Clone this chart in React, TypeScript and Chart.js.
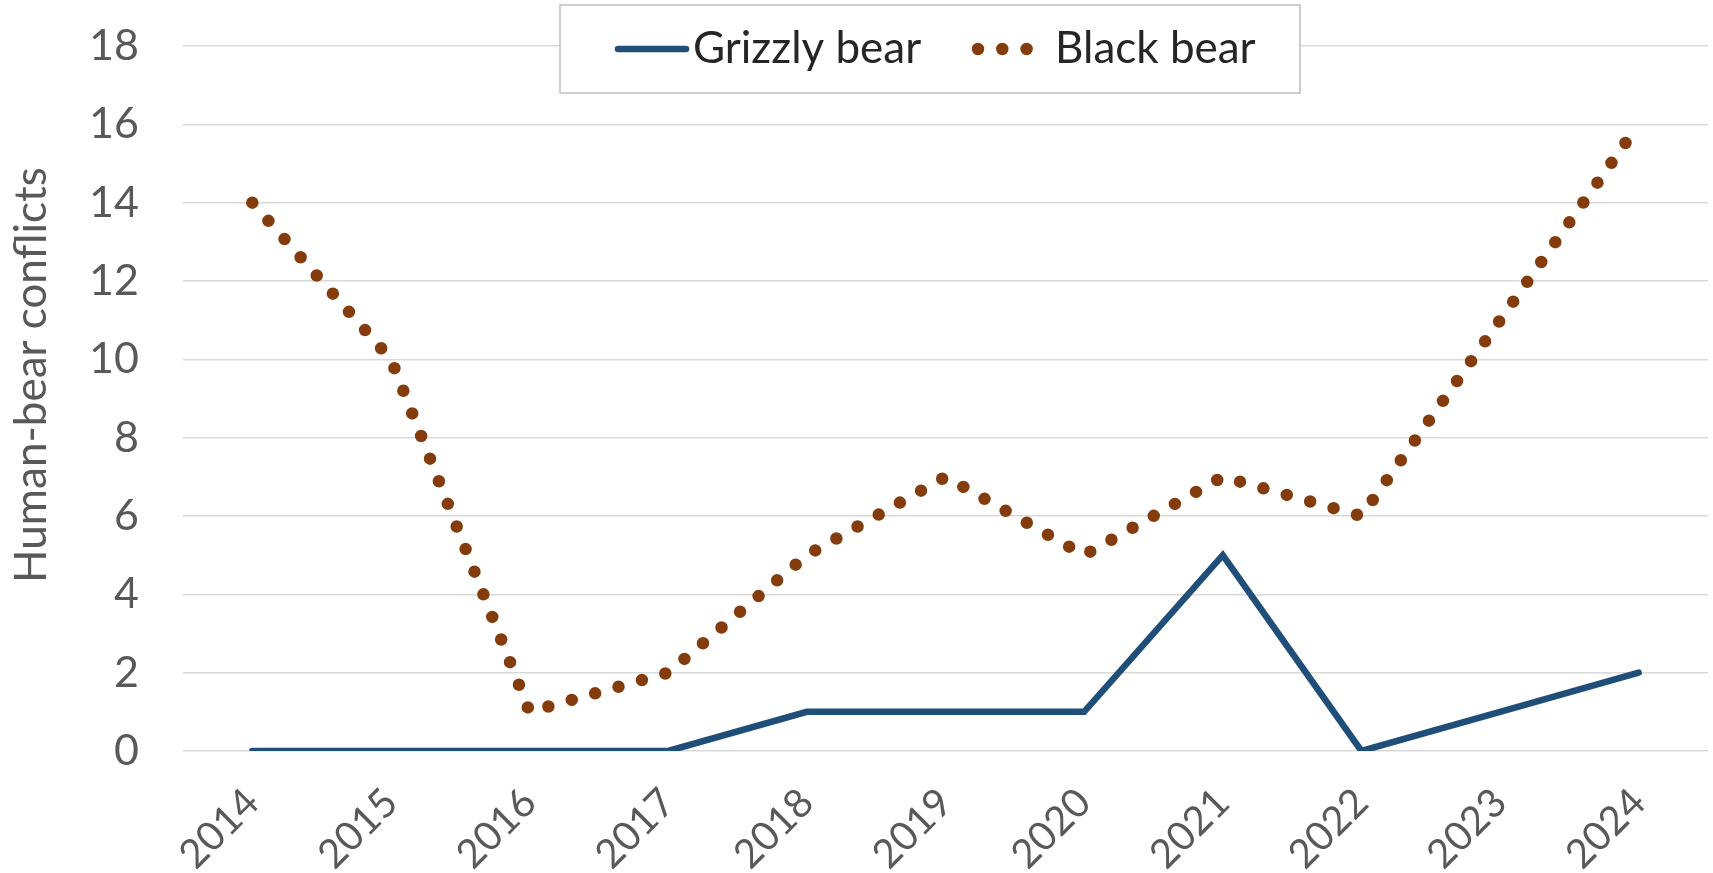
import React, { useEffect, useRef } from "react";
import { Chart, registerables } from "chart.js";

Chart.register(...registerables);

const years = ["2014", "2015", "2016", "2017", "2018", "2019", "2020", "2021", "2022", "2023", "2024"];
const grizzlyBear = [0, 0, 0, 0, 1, 1, 1, 5, 0, 1, 2];
const blackBear = [14, 10, 1, 2, 5, 7, 5, 7, 6, 11, 16];
const seriesNames = ["Grizzly bear", "Black bear"];
const yAxisTitle = "Human-bear conflicts";
const yMin = 0;
const yMax = 18;
const yStep = 2;

const GRIZZLY_COLOR = "#1F4E79";
const BLACK_COLOR = "#843C0C";
const TICK_COLOR = "#595959";
const FONT = "Lato, 'Open Sans', sans-serif";

const boxLegendPlugin = {
  id: "boxLegend",
  afterDraw(chart: any) {
    const ctx = chart.ctx as CanvasRenderingContext2D;
    const ds = chart.data.datasets;
    ctx.save();
    // y-axis title
    ctx.save();
    ctx.translate(46, 375);
    ctx.rotate(-Math.PI / 2);
    ctx.font = `44px ${FONT}`;
    ctx.fillStyle = TICK_COLOR;
    ctx.textAlign = "center";
    ctx.textBaseline = "alphabetic";
    ctx.fillText(yAxisTitle, 0, 0);
    ctx.restore();

    // legend box
    ctx.fillStyle = "#FFFFFF";
    ctx.fillRect(560, 5, 740, 88);
    ctx.strokeStyle = "#BFBFBF";
    ctx.lineWidth = 1.5;
    ctx.strokeRect(560, 5, 740, 88);

    // grizzly item
    ctx.beginPath();
    ctx.strokeStyle = ds[0].borderColor;
    ctx.lineWidth = ds[0].borderWidth;
    ctx.lineCap = "round";
    ctx.moveTo(618, 49);
    ctx.lineTo(686, 49);
    ctx.stroke();

    // black bear item
    ctx.beginPath();
    ctx.strokeStyle = ds[1].borderColor;
    ctx.lineWidth = ds[1].borderWidth;
    ctx.lineCap = "round";
    ctx.setLineDash(ds[1].borderDash);
    ctx.moveTo(978, 49);
    ctx.lineTo(1029, 49);
    ctx.stroke();
    ctx.setLineDash([]);

    ctx.font = `44px ${FONT}`;
    ctx.fillStyle = "#262626";
    ctx.textAlign = "left";
    ctx.textBaseline = "alphabetic";
    ctx.fillText(ds[0].label, 693, 63);
    ctx.fillText(ds[1].label, 1055, 63);
    ctx.restore();
  },
};

export default function App() {
  const canvasRef = useRef<HTMLCanvasElement | null>(null);

  useEffect(() => {
    const canvas = canvasRef.current;
    if (!canvas) return;
    const chart = new Chart(canvas, {
      type: "line",
      data: {
        labels: years,
        datasets: [
          {
            label: seriesNames[0],
            data: grizzlyBear,
            borderColor: GRIZZLY_COLOR,
            backgroundColor: GRIZZLY_COLOR,
            borderWidth: 6.5,
            borderCapStyle: "round",
            borderJoinStyle: "miter",
            pointRadius: 0,
            pointHoverRadius: 0,
            tension: 0,
            fill: false,
          },
          {
            label: seriesNames[1],
            data: blackBear,
            borderColor: BLACK_COLOR,
            backgroundColor: BLACK_COLOR,
            borderWidth: 12.5,
            borderDash: [0, 24.3],
            borderCapStyle: "round",
            borderJoinStyle: "round",
            pointRadius: 0,
            pointHoverRadius: 0,
            tension: 0,
            fill: false,
          },
        ],
      },
      options: {
        responsive: false,
        maintainAspectRatio: false,
        animation: false,
        events: [],
        layout: { padding: { top: 46, right: 5, left: 0, bottom: 0 } },
        plugins: {
          legend: { display: false },
          tooltip: { enabled: false },
          title: { display: false },
        },
        scales: {
          x: {
            type: "category",
            offset: true,
            grid: { display: false, drawTicks: false },
            border: { display: false },
            ticks: {
              color: TICK_COLOR,
              font: { family: FONT, size: 40 },
              maxRotation: 45,
              minRotation: 45,
              padding: 28,
              autoSkip: false,
            },
            afterFit(scale: any) {
              scale.height = 122;
            },
          },
          y: {
            min: yMin,
            max: yMax,
            grid: {
              color: "#D9D9D9",
              lineWidth: 1.5,
              drawTicks: true,
              tickLength: 44,
              tickColor: "rgba(0,0,0,0)",
            },
            border: { display: false },
            ticks: {
              stepSize: yStep,
              color: TICK_COLOR,
              font: { family: FONT, size: 43 },
              padding: 0,
            },
            afterFit(scale: any) {
              scale.width = 183;
            },
          },
        },
      },
      plugins: [boxLegendPlugin],
    });
    return () => chart.destroy();
  }, []);

  return (
    <div style={{ position: "fixed", left: 0, top: 0, width: 1713, height: 873, background: "#fff" }}>
      <canvas ref={canvasRef} width={1713} height={873} style={{ display: "block" }} />
    </div>
  );
}
